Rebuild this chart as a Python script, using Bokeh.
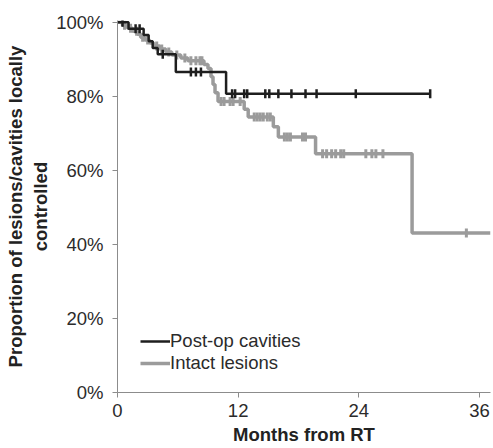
import math
from bokeh.plotting import figure
from bokeh.models import Range1d, FixedTicker, Legend, LegendItem, CustomJSTickFormatter
from bokeh.embed import file_html
from bokeh.resources import INLINE

# ---- data (months, % locally controlled) ----
postop_times = [0, 1.1, 2.6, 3.1, 3.5, 4.0, 5.8, 10.8, 31.1]
postop_surv = [100, 98.3, 96.6, 94.9, 93.1, 91.4, 86.6, 80.7, 80.7]
postop_censor = [0.5, 1.8, 2.2, 4.5, 7.3, 7.8, 8.3, 11.4, 11.7, 12.6, 12.9,
                 14.7, 15.1, 16.0, 17.3, 18.7, 19.8, 23.7, 31.1]

intact_times = [0, 0.5, 1.0, 1.5, 2.0, 2.3, 2.7, 3.2, 3.6, 4.2, 4.8, 5.4, 6.3,
                7.0, 8.6, 9.0, 9.3, 9.5, 9.7, 10.0, 12.6, 13.0, 15.5, 16.0,
                19.7, 29.3, 37.1]
intact_surv = [100, 99.2, 98.4, 97.6, 96.8, 96.0, 95.2, 94.4, 93.6, 92.8, 92.0,
               91.2, 90.4, 89.6, 88.6, 87.5, 85.3, 83.2, 81.0, 78.6, 76.5, 74.4,
               71.8, 69.0, 64.5, 43.1, 43.1]
intact_censor = [0.7, 1.3, 1.9, 2.5, 3.0, 3.9, 4.4, 5.1, 5.9, 6.7, 7.3, 7.8,
                 8.2, 8.4, 10.3, 10.6, 11.2, 11.5, 12.2, 13.6, 13.9, 14.2,
                 14.5, 14.9, 15.2, 16.6, 16.9, 17.2, 18.4, 18.7, 20.4, 20.8,
                 21.3, 21.7, 22.2, 22.5, 24.7, 25.3, 25.7, 26.4, 34.7]

x_ticks = [0, 12, 24, 36]
y_ticks = [0, 20, 40, 60, 80, 100]

series_names = ["Post-op cavities", "Intact lesions"]


def surv_at(times, survs, t):
    s = survs[0]
    for ti, si in zip(times, survs):
        if ti <= t:
            s = si
        else:
            break
    return s


FONT = "Liberation Sans"

p = figure(width=493, height=448, output_backend="svg", toolbar_location=None,
           x_range=Range1d(0, 37.1), y_range=Range1d(0, 100.5),
           min_border_left=117, min_border_right=3, min_border_top=20,
           min_border_bottom=56)
p.outline_line_color = None
p.grid.visible = False
p.background_fill_color = "white"
p.border_fill_color = "white"

BLACK = "#1e1e1e"
GRAY = "#9b9b9b"

r_int = p.step(intact_times, intact_surv, mode="after", line_color=GRAY, line_width=3.5)
p.scatter(intact_censor, [surv_at(intact_times, intact_surv, t) for t in intact_censor],
          marker="dash", angle=math.pi / 2, size=9, line_color=GRAY, line_width=3)

r_po = p.step(postop_times, postop_surv, mode="after", line_color=BLACK, line_width=2.5)
p.scatter(postop_censor, [surv_at(postop_times, postop_surv, t) for t in postop_censor],
          marker="dash", angle=math.pi / 2, size=9, line_color=BLACK, line_width=2.5)

# axes
for ax in (p.xaxis[0], p.yaxis[0]):
    ax.axis_line_color = "#8c8c8c"
    ax.major_tick_line_color = "#8c8c8c"
    ax.minor_tick_line_color = None
    ax.major_tick_in = 0
    ax.major_tick_out = 5
    ax.major_label_text_font = FONT
    ax.major_label_text_font_size = "18.5px"
    ax.major_label_text_color = "#2b2b2b"
    ax.axis_label_text_font = FONT
    ax.axis_label_text_font_size = "18.5px"
    ax.axis_label_text_font_style = "bold"
    ax.axis_label_text_color = "#222222"

p.xaxis.ticker = FixedTicker(ticks=x_ticks)
p.yaxis.ticker = FixedTicker(ticks=y_ticks)
p.yaxis.formatter = CustomJSTickFormatter(code="return tick.toFixed(0) + '%';")
p.xaxis.axis_label = "Months from RT"
p.yaxis.axis_label = "Proportion of lesions/cavities locally\ncontrolled"
p.xaxis.major_label_standoff = 6
p.xaxis.axis_label_standoff = 4
p.yaxis.major_label_standoff = 9
p.yaxis.axis_label_standoff = 2

legend = Legend(items=[LegendItem(label=series_names[0], renderers=[r_po]),
                       LegendItem(label=series_names[1], renderers=[r_int])],
                location=(23, 18), orientation="vertical")
legend.border_line_alpha = 0
legend.background_fill_alpha = 0
legend.padding = 0
legend.margin = 0
legend.spacing = 0
legend.glyph_width = 30
legend.glyph_height = 20
legend.label_height = 20
legend.label_standoff = 0
legend.label_text_font = FONT
legend.label_text_font_size = "18.5px"
legend.label_text_color = "#2b2b2b"
p.add_layout(legend, "center")

open("out.html", "w").write(file_html(p, INLINE))
